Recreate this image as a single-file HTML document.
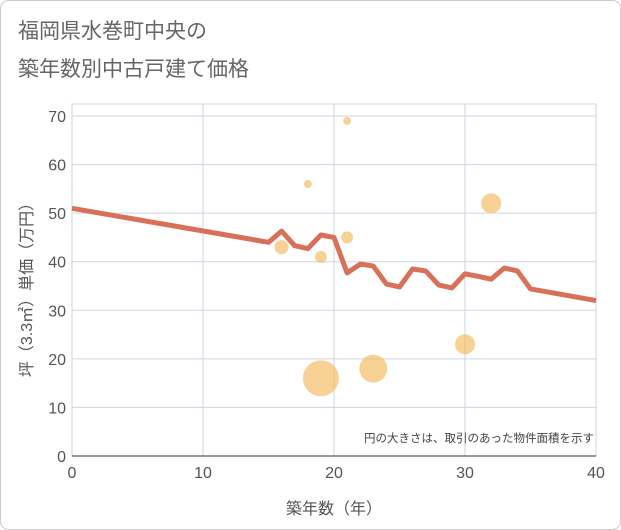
<!DOCTYPE html>
<html><head><meta charset="utf-8"><style>
body{margin:0;background:#fff;}
svg{display:block;font-family:"Liberation Sans","Noto Sans CJK JP",sans-serif;}
</style></head><body>
<svg width="621" height="530" viewBox="0 0 621 530">
<rect x="0.5" y="0.5" width="620" height="529" rx="8" fill="#fff" stroke="#ccc"/>
<text x="18" y="38" font-size="21" fill="#666">福岡県水巻町中央の</text>
<text x="18" y="76" font-size="21" fill="#666">築年数別中古戸建て価格</text>
<g id="grid"></g>
<g id="bubbles"></g>
<g id="line"></g>
<g id="axes"></g>
<text x="594" y="442" font-size="11.5" fill="#444" text-anchor="end">円の大きさは、取引のあった物件面積を示す</text>
<text x="334" y="514" font-size="16" fill="#555" text-anchor="middle">築年数（年）</text>
<text transform="translate(32,286) rotate(-90)" font-size="16" fill="#555" text-anchor="middle">坪（3.3㎡）単価（万円）</text>
</svg>
<script>
const xTicks=[0,10,20,30,40];
const yTicks=[0,10,20,30,40,50,60,70];
const lineX=[0,15,16,17,18,19,20,21,22,23,24,25,26,27,28,29,30,31,32,33,34,35,40];
const lineY=[51,44,46.3,43.3,42.7,45.5,45,37.7,39.5,39.1,35.4,34.8,38.5,38.1,35.2,34.6,37.5,37,36.4,38.7,38.1,34.4,32];
const bubX=[16,18,19,19,21,21,23,30,32];
const bubY=[43,56,41,16,69,45,18,23,52];
const bubR=[7,4,6,18,4,6,14,10,10];
const ns="http://www.w3.org/2000/svg";
const X0=72,X1=596,Y0=456,Y1=116;
const sx=v=>X0+(v-0)/40*(X1-X0);
const sy=v=>Y0-(v/70)*(Y0-Y1);
function mk(t,a,p){const e=document.createElementNS(ns,t);for(const k in a)e.setAttribute(k,a[k]);p.appendChild(e);return e;}
const g=document.getElementById('grid'),ax=document.getElementById('axes');
mk('rect',{x:X0,y:104,width:X1-X0,height:Y0-104,fill:'none',stroke:'#ccd6e0'},g);
xTicks.forEach(v=>{const l=mk('line',{x1:sx(v),x2:sx(v),y1:104,y2:Y0,stroke:'#ccd6e0'},g);

const t=mk('text',{x:sx(v),y:478,'font-size':16,fill:'#555','text-anchor':'middle'},ax);t.textContent=v;
});
yTicks.forEach(v=>{const l=mk('line',{x1:X0,x2:X1,y1:sy(v),y2:sy(v),stroke:'#ccd6e0'},g);

const t=mk('text',{x:66,y:sy(v)+6,'font-size':16,fill:'#555','text-anchor':'end'},ax);t.textContent=v;
});
mk('line',{x1:X0,x2:X1,y1:Y0,y2:Y0,stroke:'#333'},ax);
const b=document.getElementById('bubbles');
bubX.forEach((v,i)=>{const c=mk('circle',{cx:sx(v),cy:sy(bubY[i]),r:bubR[i],fill:'#f5b95a','fill-opacity':0.65},b);
});
const pts=lineX.map((v,i)=>sx(v)+','+sy(lineY[i])).join(' ');
const pl=mk('polyline',{points:pts,fill:'none',stroke:'#d9705a','stroke-width':5,'stroke-linejoin':'round'},document.getElementById('line'));

</script>
</body></html>
